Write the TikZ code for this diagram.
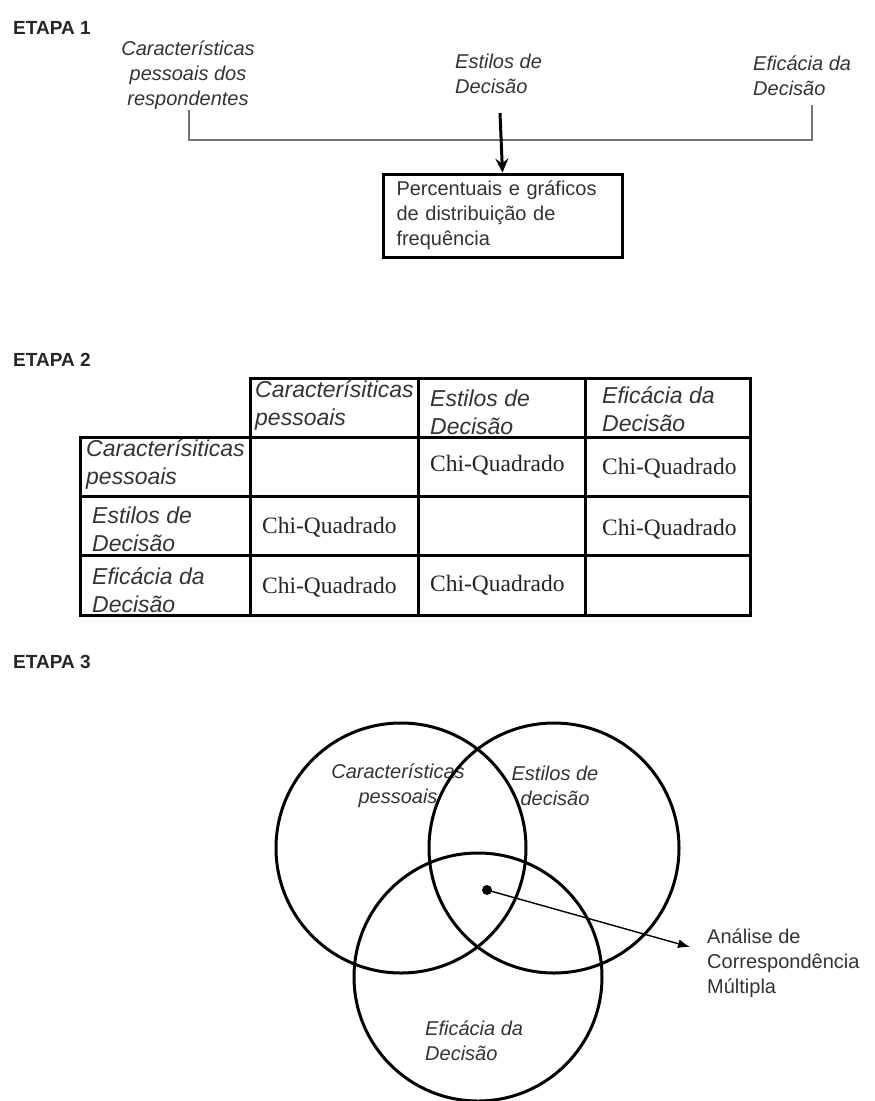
\documentclass[tikz,border=0pt]{standalone}
\usepackage{fontspec}
\setmainfont{Liberation Sans}
\newfontfamily\tmsfont{Liberation Serif}
\usetikzlibrary{arrows.meta}
\definecolor{txtgray}{rgb}{0.2,0.2,0.2}
\definecolor{brgray}{rgb}{0.45,0.45,0.45}
\begin{document}
\begin{tikzpicture}[x=1pt,y=-1pt,
  etapa/.style={font=\fontsize{19}{22}\selectfont\bfseries, anchor=west, inner sep=0, text=black!85},
  lbl/.style={font=\fontsize{20}{25}\selectfont\itshape, text=txtgray, inner sep=0},
  plain/.style={font=\fontsize{20}{25}\selectfont, text=txtgray, inner sep=0, align=left},
  tcell/.style={font=\fontsize{23}{28}\selectfont\itshape, text=txtgray, align=left, anchor=west, inner sep=0},
  chi/.style={font=\tmsfont\fontsize{23.5}{28}\selectfont, text=black!85, anchor=west, inner sep=0},
  thick line/.style={line width=3pt},
  bracket/.style={draw=brgray, line width=1.6pt},
  venn/.style={draw, line width=3pt}]
\useasboundingbox (0,0) rectangle (875,1101);

% ---------------- ETAPA 1
\node[etapa] (e1) at (13,28) {ETAPA 1};
\node[lbl, align=center] (car1) at (188,75) {Características\\pessoais dos\\respondentes};
\node[lbl, align=left, anchor=west] (est1) at (455,74) {Estilos de\\Decisão};
\node[lbl, align=left, anchor=west] (efi1) at (753,76) {Eficácia da\\Decisão};
\node[draw, thick line, minimum width=239, minimum height=83, text width=212,
      plain, inner sep=0] (box) at (502.5,215.5)
      {Percentuais e gráficos\\de distribuição de\\frequência};
\coordinate (bl) at (189,110);
\coordinate (br) at (812,105);
\coordinate (bm) at (500,113);
\draw[bracket] (bl) -- (189,140) -- (812,140) -- (br);
\draw[thick line, -{Stealth[length=14pt,width=13pt,inset=5pt]}] (bm) -- (box.north);

% ---------------- ETAPA 2
\node[etapa] (e2) at (13,360) {ETAPA 2};
\draw[thick line] (250,378) rectangle (750,615);
\draw[thick line] (80,437) rectangle (750,615);
\draw[thick line] (418,378) -- (418,615);
\draw[thick line] (585,378) -- (585,615);
\draw[thick line] (80,496) -- (750,496);
\draw[thick line] (80,555) -- (750,555);

\node[tcell] (h1) at (255,405) {Caracterísiticas\\pessoais};
\node[tcell] (h2) at (430,412) {Estilos de\\Decisão};
\node[tcell] (h3) at (602,409) {Eficácia da\\Decisão};
\node[tcell] (r1) at (86,464) {Caracterísiticas\\pessoais};
\node[tcell] (r2) at (92,529) {Estilos de\\Decisão};
\node[tcell] (r3) at (92,590) {Eficácia da\\Decisão};

\node[chi] (c12) at (430,465) {Chi-Quadrado};
\node[chi] (c13) at (602,468) {Chi-Quadrado};
\node[chi] (c21) at (262,527) {Chi-Quadrado};
\node[chi] (c23) at (602,529) {Chi-Quadrado};
\node[chi] (c31) at (262,587) {Chi-Quadrado};
\node[chi] (c32) at (430,585) {Chi-Quadrado};

% ---------------- ETAPA 3
\node[etapa] (e3) at (13,662) {ETAPA 3};
\node[lbl, align=center] (vc) at (398,786) {Características\\pessoais};
\node[lbl, align=center] (ve) at (555,786) {Estilos de\\decisão};
\node[lbl, align=left, anchor=west] (vf) at (425,1041) {Eficácia da\\Decisão};

\draw[venn] (401,848) circle[radius=125pt];
\draw[venn] (554,848) circle[radius=125pt];
\draw[venn] (478,977) circle[radius=124pt];

\node[circle, fill=black, minimum size=10pt, inner sep=0] (dot) at (487,890) {};
\coordinate (tip) at (690,947);
\node[plain, anchor=west] (acm) at (707,963) {Análise de\\Correspondência\\Múltipla};
\draw[line width=1.4pt, -{Latex[length=12pt,width=9pt]}] (dot.center) -- (tip);
\end{tikzpicture}
\end{document}
